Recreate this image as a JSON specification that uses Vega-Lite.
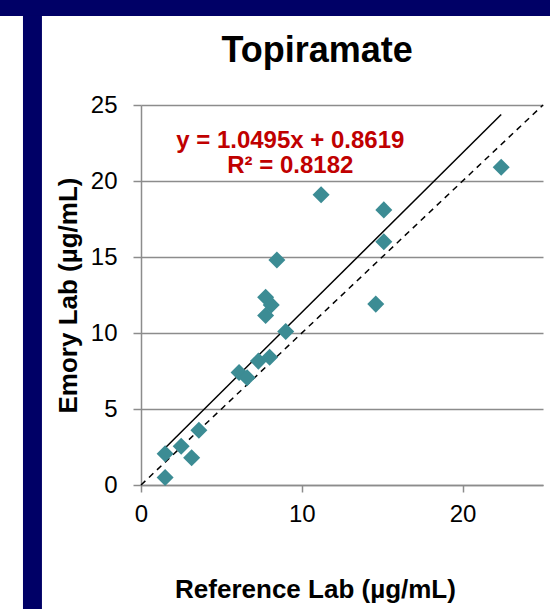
{
  "$schema": "https://vega.github.io/schema/vega-lite/v6.json",
  "autosize": {"type": "none"},
  "width": 402,
  "height": 380,
  "padding": {"left": 141, "top": 105, "right": 7, "bottom": 124},
  "background": "white",
  "config": {
    "view": {"stroke": null},
    "font": "Liberation Sans"
  },
  "datasets": {
    "points": [
      {"ref": 1.5, "emory": 2.05},
      {"ref": 1.5, "emory": 0.5},
      {"ref": 2.5, "emory": 2.55},
      {"ref": 3.15, "emory": 1.8},
      {"ref": 3.6, "emory": 3.6},
      {"ref": 6.1, "emory": 7.4},
      {"ref": 6.6, "emory": 7.05},
      {"ref": 7.3, "emory": 8.15},
      {"ref": 8.0, "emory": 8.4},
      {"ref": 7.75, "emory": 12.35},
      {"ref": 8.1, "emory": 11.85},
      {"ref": 7.75, "emory": 11.15},
      {"ref": 8.45, "emory": 14.8},
      {"ref": 9.0, "emory": 10.1},
      {"ref": 11.2, "emory": 19.1},
      {"ref": 15.1, "emory": 18.1},
      {"ref": 15.1, "emory": 16.0},
      {"ref": 14.6, "emory": 11.9},
      {"ref": 22.4, "emory": 20.9}
    ],
    "trend": [
      {"ref": 1.5, "emory": 2.436},
      {"ref": 22.4, "emory": 24.371}
    ],
    "identity": [
      {"ref": 0, "emory": 0},
      {"ref": 25, "emory": 25}
    ],
    "one": [{}]
  },
  "layer": [
    {
      "data": {"name": "one"},
      "mark": {"type": "rect", "color": "#000066"},
      "encoding": {
        "x": {"datum": -8.77, "type": "quantitative", "scale": {"domain": [0, 25], "nice": false, "zero": false}},
        "x2": {"datum": 25.44},
        "y": {"datum": 31.91, "type": "quantitative", "scale": {"domain": [0, 25], "nice": false, "zero": false}},
        "y2": {"datum": 30.86}
      }
    },
    {
      "data": {"name": "one"},
      "mark": {"type": "rect", "color": "#000066"},
      "encoding": {
        "x": {"datum": -7.34, "type": "quantitative"},
        "x2": {"datum": -6.16},
        "y": {"datum": 30.9, "type": "quantitative"},
        "y2": {"datum": -8.2}
      }
    },
    {
      "data": {"name": "one"},
      "mark": {"type": "text", "text": "Topiramate", "font": "Liberation Sans", "fontSize": 36, "fontWeight": "bold", "color": "black", "align": "center", "baseline": "alphabetic"},
      "encoding": {
        "x": {"datum": 10.95, "type": "quantitative"},
        "y": {"datum": 27.83, "type": "quantitative"}
      }
    },
    {
      "data": {"name": "identity"},
      "mark": {"type": "line", "color": "black", "strokeWidth": 1.5, "strokeDash": [6, 5]},
      "encoding": {
        "x": {"field": "ref", "type": "quantitative"},
        "y": {"field": "emory", "type": "quantitative"}
      }
    },
    {
      "data": {"name": "trend"},
      "mark": {"type": "line", "color": "black", "strokeWidth": 1.5},
      "encoding": {
        "x": {"field": "ref", "type": "quantitative"},
        "y": {"field": "emory", "type": "quantitative"}
      }
    },
    {
      "data": {"name": "points"},
      "mark": {"type": "point", "shape": "diamond", "filled": true, "size": 290, "color": "#3C8C94", "opacity": 1},
      "encoding": {
        "x": {
          "field": "ref",
          "type": "quantitative",
          "scale": {"domain": [0, 25], "nice": false, "zero": false},
          "axis": {
            "title": "Reference Lab (µg/mL)",
            "titleFont": "Liberation Sans",
            "titleFontSize": 26,
            "titleFontWeight": "bold",
            "titleColor": "black",
            "titleX": 174,
            "titlePadding": 50,
            "values": [0, 10, 20],
            "grid": false,
            "domainColor": "#8C8C8C",
            "domainWidth": 1.5,
            "tickColor": "#8C8C8C",
            "tickWidth": 1.5,
            "tickSize": 7,
            "labelFont": "Liberation Sans",
            "labelFontSize": 24,
            "labelColor": "black",
            "labelPadding": 10,
            "labelFlush": false
          }
        },
        "y": {
          "field": "emory",
          "type": "quantitative",
          "scale": {"domain": [0, 25], "nice": false, "zero": false},
          "axis": {
            "title": "Emory Lab (µg/mL)",
            "titleFont": "Liberation Sans",
            "titleFontSize": 26,
            "titleFontWeight": "bold",
            "titleColor": "black",
            "titlePadding": 9,
            "values": [0, 5, 10, 15, 20, 25],
            "grid": true,
            "gridColor": "#8C8C8C",
            "gridWidth": 1.5,
            "domainColor": "#8C8C8C",
            "domainWidth": 1.5,
            "tickColor": "#8C8C8C",
            "tickWidth": 1.5,
            "tickSize": 8,
            "labelFont": "Liberation Sans",
            "labelFontSize": 24,
            "labelColor": "black",
            "labelPadding": 16,
            "labelFlush": false
          }
        }
      }
    },
    {
      "data": {"name": "one"},
      "mark": {"type": "text", "text": "y = 1.0495x + 0.8619", "font": "Liberation Sans", "fontSize": 24, "fontWeight": "bold", "color": "#C00000", "align": "center", "baseline": "alphabetic"},
      "encoding": {
        "x": {"datum": 9.285, "type": "quantitative"},
        "y": {"datum": 22.15, "type": "quantitative"}
      }
    },
    {
      "data": {"name": "one"},
      "mark": {"type": "text", "text": "R² = 0.8182", "font": "Liberation Sans", "fontSize": 24, "fontWeight": "bold", "color": "#C00000", "align": "center", "baseline": "alphabetic"},
      "encoding": {
        "x": {"datum": 9.285, "type": "quantitative"},
        "y": {"datum": 20.51, "type": "quantitative"}
      }
    }
  ]
}
